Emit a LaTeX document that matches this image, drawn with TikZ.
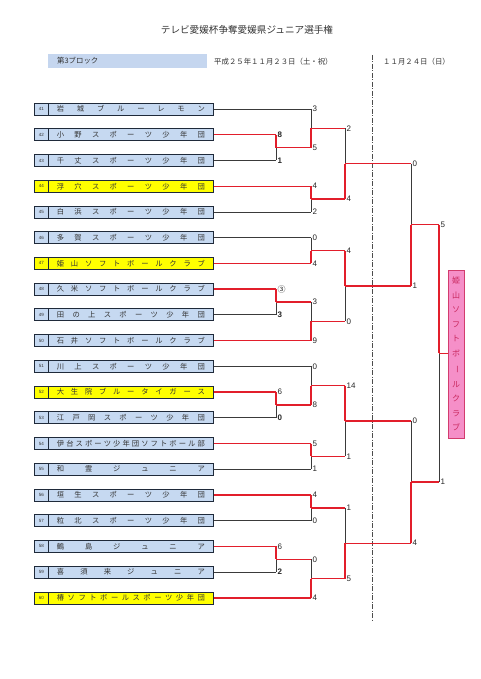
\documentclass[tikz,border=0pt]{standalone}
\usepackage{fontspec}
\usepackage{graphicx}
\setmainfont{Liberation Sans}
\newfontfamily\jp{Noto Sans CJK JP}
\usetikzlibrary{calc}
\definecolor{teamblue}{HTML}{C6D9F1}
\definecolor{teamyellow}{HTML}{FFFF00}
\definecolor{boxline}{HTML}{1F2A3A}
\definecolor{winred}{HTML}{E21E2B}
\definecolor{lossgray}{HTML}{3A3A3A}
\definecolor{champfill}{HTML}{F58FC8}
\definecolor{champline}{HTML}{D23C6E}
\definecolor{champtext}{HTML}{C8285E}
\definecolor{hdrblue}{HTML}{C5D6EF}
\makeatletter
\newcommand\spreadchars[2]{\hbox to #1{\def\sepx{}\@tfor\cc:=#2\do{\sepx\cc\def\sepx{\hfill}}}}
\newcommand\vspreadchars[2]{\vbox to #1{\def\sepx{}\@tfor\cc:=#2\do{\sepx\hbox to 14pt{\hss\cc\hss}\def\sepx{\vfill}}}}
\makeatother
\tikzset{
  numcell/.style={draw=boxline, line width=0.8pt, minimum width=14pt, minimum height=12pt, inner sep=0pt, anchor=west, font=\fontsize{4.5}{5}\selectfont, text=black!80},
  namecell/.style={draw=boxline, line width=0.8pt, minimum width=165pt, minimum height=12pt, inner sep=0pt, anchor=west, font=\jp\fontsize{7.3}{8}\selectfont, text=black!80},
  redline/.style={draw=winred, line width=1.3pt},
  grayline/.style={draw=lossgray, line width=0.8pt},
  score/.style={anchor=west, inner sep=0pt, xshift=1.5pt, font=\fontsize{8}{8}\selectfont, text=black!85},
  dashline/.style={draw=black!70, line width=0.8pt, dash pattern=on 5pt off 1.5pt on 1pt off 1.5pt},
  hdrtext/.style={font=\jp\fontsize{7.4}{8}\selectfont, text=black!80, inner sep=0pt},
}
\newcommand\team[4]{%
  \node[numcell,fill=#3] (n#1) at (34,#2) {#1};
  \node[namecell,fill=#3] (t#1) at (48,#2) {\spreadchars{148pt}{#4}};
}
\newcommand\mt[9]{%
  \coordinate (#1t) at (#3 -| #2);
  \coordinate (#1b) at (#4 -| #2);
  \coordinate (#1m) at ($(#1t)!0.5!(#1b)$);
  \if t#9
    \draw[grayline] (#1m) -- (#1b);
  \else
    \draw[grayline] (#1t) -- (#1m);
  \fi
  \draw[#5] (#3) -- (#1t);
  \draw[#6] (#4) -- (#1b);
  \if t#9
    \draw[redline] (#1t) -- (#1m);
  \else
    \draw[redline] (#1m) -- (#1b);
  \fi
  \node[score] (#1st) at (#1t) {#7};
  \node[score] (#1sb) at (#1b) {#8};
}
\begin{document}
\begin{tikzpicture}[x=1pt,y=-1pt]
\path[use as bounding box, fill=white] (0,0) rectangle (480,679);

% title and header
\node[font=\jp\fontsize{9.6}{10}\selectfont, text=black!80] (title) at (247,30) {テレビ愛媛杯争奪愛媛県ジュニア選手権};
\node[fill=hdrblue, minimum width=159pt, minimum height=14pt, inner sep=0pt, anchor=west] (blk) at (48,61) {};
\node[hdrtext, anchor=west] (blktext) at (57,61) {第3ブロック};
\node[hdrtext, anchor=west] (day1) at (214,62) {平成２５年１１月２３日（土・祝）};
\node[hdrtext, anchor=west] (day2) at (383,62) {１１月２４日（日）};

% day separator
\coordinate (dtop) at (372,55);
\coordinate (dbot) at (372,622);
\draw[dashline] (dtop) -- (dbot);

% columns
\coordinate (c1) at (276,0);
\coordinate (c2) at (311,0);
\coordinate (c3) at (345,0);
\coordinate (c4) at (411,0);
\coordinate (c5) at (439,0);

% teams
\team{41}{109}{teamblue}{岩城ブルーレモン}
\team{42}{134.7}{teamblue}{小野スポーツ少年団}
\team{43}{160.5}{teamblue}{千丈スポーツ少年団}
\team{44}{186.2}{teamyellow}{浮穴スポーツ少年団}
\team{45}{211.9}{teamblue}{白浜スポーツ少年団}
\team{46}{237.7}{teamblue}{多賀スポーツ少年団}
\team{47}{263.4}{teamyellow}{姫山ソフトボールクラブ}
\team{48}{289.1}{teamblue}{久米ソフトボールクラブ}
\team{49}{314.8}{teamblue}{田の上スポーツ少年団}
\team{50}{340.6}{teamblue}{石井ソフトボールクラブ}
\team{51}{366.3}{teamblue}{川上スポーツ少年団}
\team{52}{392}{teamyellow}{大生院ブルータイガース}
\team{53}{417.8}{teamblue}{江戸岡スポーツ少年団}
\team{54}{443.5}{teamblue}{伊台スポーツ少年団ソフトボール部}
\team{55}{469.2}{teamblue}{和霊ジュニア}
\team{56}{495}{teamblue}{垣生スポーツ少年団}
\team{57}{520.7}{teamblue}{粒北スポーツ少年団}
\team{58}{546.4}{teamblue}{鶴島ジュニア}
\team{59}{572.1}{teamblue}{喜須来ジュニア}
\team{60}{597.9}{teamyellow}{椿ソフトボールスポーツ少年団}

% champion
\node[draw=champline, fill=champfill, line width=0.8pt, minimum width=16pt, minimum height=168pt, inner sep=0pt, text=champtext, font=\jp\fontsize{8}{8}\selectfont] (champ) at (456,354)
  {\vspreadchars{154pt}{姫山ソフトボ{\rotatebox[origin=c]{-90}{ー}}ルクラブ}};

% matches
\mt{A}{c1}{t42.east}{t43.east}{redline}{grayline}{\bfseries 8}{\bfseries 1}{t}
\mt{B}{c2}{t41.east}{Am}{grayline}{redline}{3}{5}{b}
\mt{C}{c2}{t44.east}{t45.east}{redline}{grayline}{4}{2}{t}
\mt{D}{c3}{Bm}{Cm}{redline}{redline}{2}{4}{b}
\mt{E}{c2}{t46.east}{t47.east}{grayline}{redline}{0}{4}{b}
\mt{F}{c1}{t48.east}{t49.east}{redline}{grayline}{{\jp ③}}{\bfseries 3}{t}
\mt{G}{c2}{Fm}{t50.east}{redline}{redline}{3}{9}{b}
\mt{H}{c3}{Em}{Gm}{redline}{redline}{4}{0}{t}
\mt{I}{c4}{Dm}{Hm}{redline}{redline}{0}{1}{b}
\mt{J}{c1}{t52.east}{t53.east}{redline}{grayline}{6}{\bfseries 0}{t}
\mt{K}{c2}{t51.east}{Jm}{grayline}{redline}{0}{8}{b}
\mt{L}{c2}{t54.east}{t55.east}{redline}{grayline}{5}{1}{t}
\mt{M}{c3}{Km}{Lm}{redline}{redline}{14}{1}{t}
\mt{N}{c2}{t56.east}{t57.east}{redline}{grayline}{4}{0}{t}
\mt{O}{c1}{t58.east}{t59.east}{redline}{grayline}{6}{\bfseries 2}{t}
\mt{P}{c2}{Om}{t60.east}{redline}{redline}{0}{4}{b}
\mt{Q}{c3}{Nm}{Pm}{redline}{redline}{1}{5}{b}
\mt{R}{c4}{Mm}{Qm}{redline}{redline}{0}{4}{b}
\mt{S}{c5}{Im}{Rm}{redline}{redline}{5}{1}{t}
\draw[redline] (Sm) -- (Sm -| champ.west);
\end{tikzpicture}
\end{document}
